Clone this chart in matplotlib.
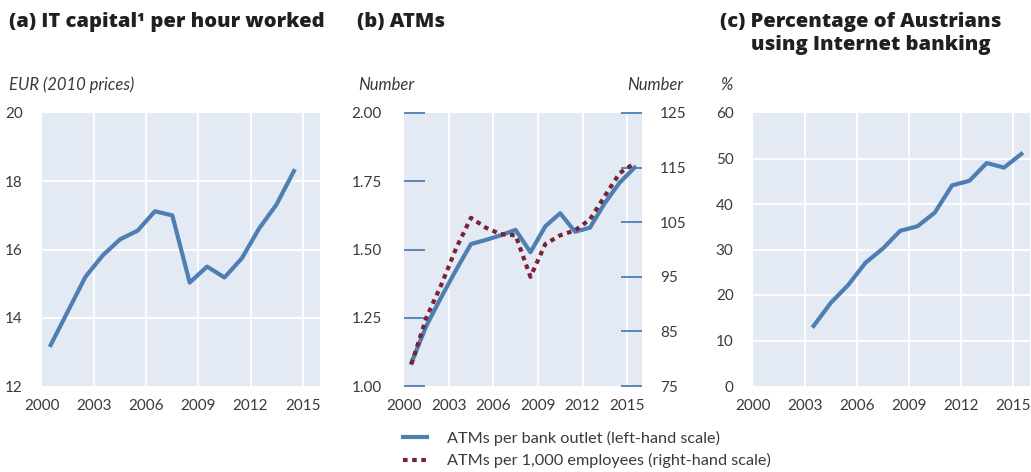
import matplotlib
matplotlib.use("Agg")
import matplotlib.pyplot as plt

plt.rcParams["font.family"] = ["Lato", "DejaVu Sans"]

# ─── données ─────────────────────────────────────────────────────────────────
# points placés en milieu d'année
YEARS_A = [2000.5, 2001.5, 2002.5, 2003.5, 2004.5, 2005.5, 2006.5, 2007.5,
           2008.5, 2009.5, 2010.5, 2011.5, 2012.5, 2013.5, 2014.5]
IT_CAPITAL = [13.2, 14.2, 15.2, 15.83, 16.3, 16.55, 17.12, 17.0,
              15.03, 15.5, 15.18, 15.74, 16.62, 17.32, 18.3]

YEARS_B = [2000.5, 2001.5, 2002.5, 2003.5, 2004.5, 2005.5, 2006.5, 2007.5,
           2008.5, 2009.5, 2010.5, 2011.5, 2012.5, 2013.5, 2014.5, 2015.5]
ATM_PER_OUTLET = [1.085, 1.22, 1.325, 1.425, 1.52, 1.535, 1.552, 1.572,
                  1.49, 1.585, 1.633, 1.565, 1.58, 1.67, 1.745, 1.80]
ATM_PER_1000 = [79.0, 87.5, 93.5, 100.2, 105.8, 104.0, 102.8, 102.6,
                95.0, 101.0, 102.6, 103.5, 105.5, 109.8, 114.0, 115.8]

YEARS_C = [2003.5, 2004.5, 2005.5, 2006.5, 2007.5, 2008.5, 2009.5,
           2010.5, 2011.5, 2012.5, 2013.5, 2014.5, 2015.5]
INTERNET_BANKING = [13.2, 18.3, 22.2, 27.1, 30.2, 34.1, 35.1,
                    38.1, 44.1, 45.1, 49.0, 48.0, 51.0]

X_TICKS = [2000, 2003, 2006, 2009, 2012, 2015]

# ─── styles ──────────────────────────────────────────────────────────────────
BG = "#e4eaf3"
BLUE = "#4e7fb2"
RED = "#7a2337"
TXT = "#3a3a3a"
TITLE_C = "#231f20"
TICK_FS = 11
LBL_FS = 12
LEG_FS = 11.7
TITLE_FS = 14.5
LW = 3.0

fig = plt.figure(figsize=(10.31, 4.72), dpi=100)
W, H = 1031, 472


def axes_px(x0, x1, y0=113, y1=386):
    return fig.add_axes([x0 / W, 1 - y1 / H, (x1 - x0) / W, (y1 - y0) / H])


def style(ax, grid_y=True):
    ax.set_facecolor(BG)
    for s in ax.spines.values():
        s.set_visible(False)
    ax.set_xlim(2000, 2016)
    ax.set_xticks(X_TICKS)
    ax.tick_params(axis="x", length=0, pad=9, labelsize=TICK_FS, labelcolor=TXT)
    ax.tick_params(axis="y", length=0, pad=14, labelsize=TICK_FS, labelcolor=TXT)
    for x in X_TICKS[1:]:
        ax.axvline(x, color="white", lw=1.3, zorder=1)
    if grid_y:
        for y in ax.get_yticks()[1:-1]:
            ax.axhline(y, color="white", lw=1.3, zorder=1)


# ── (a) ──────────────────────────────────────────────────────────────────────
ax_a = axes_px(42, 320)
ax_a.set_ylim(12, 20)
ax_a.set_yticks([12, 14, 16, 18, 20])
style(ax_a)
ax_a.plot(YEARS_A, IT_CAPITAL, color=BLUE, lw=LW, zorder=3)

# ── (b) ──────────────────────────────────────────────────────────────────────
ax_b = axes_px(404, 642)
ax_b.set_ylim(1.0, 2.0)
ax_b.set_yticks([1.0, 1.25, 1.5, 1.75, 2.0])
ax_b.set_yticklabels(["1.00", "1.25", "1.50", "1.75", "2.00"])
style(ax_b, grid_y=False)
ax_b.tick_params(axis="y", direction="in", length=15, width=1.3, color=BLUE,
                 pad=16)
l1, = ax_b.plot(YEARS_B, ATM_PER_OUTLET, color=BLUE, lw=LW, zorder=3)

ax_b2 = ax_b.twinx()
ax_b2.set_ylim(75, 125)
ax_b2.set_yticks([75, 85, 95, 105, 115, 125])
for s in ax_b2.spines.values():
    s.set_visible(False)
ax_b2.tick_params(axis="y", direction="in", length=15, width=1.3, color=BLUE,
                  pad=13, labelsize=TICK_FS, labelcolor=TXT)
l2, = ax_b2.plot(YEARS_B, ATM_PER_1000, color=RED, lw=LW,
                 ls=(0, (1.1, 1.1)), dash_capstyle="butt", zorder=3)

# ── (c) ──────────────────────────────────────────────────────────────────────
ax_c = axes_px(753, 1030)
ax_c.set_ylim(0, 60)
ax_c.set_yticks([0, 10, 20, 30, 40, 50, 60])
style(ax_c)
ax_c.plot(YEARS_C, INTERNET_BANKING, color=BLUE, lw=LW, zorder=3)

# ── textes ───────────────────────────────────────────────────────────────────
def ftext(x, y, s, **kw):
    fig.text(x / W, 1 - y / H, s, **kw)


# titres plus larges que Lato : Open Sans extra-gras
tkw = dict(fontsize=TITLE_FS, fontweight="heavy", color=TITLE_C, va="center",
           family=["Open Sans", "Lato", "DejaVu Sans"])
ftext(9, 22, "(a) IT capital¹ per hour worked", **tkw)
ftext(357, 22, "(b) ATMs", **tkw)
ftext(720, 22, "(c) Percentage of Austrians", **tkw)
ftext(751, 45, "using Internet banking", **tkw)

ukw = dict(fontsize=LBL_FS, style="italic", color=TXT, va="center")
ftext(9, 85, "EUR (2010 prices)", **ukw)
ftext(358, 85, "Number", **ukw)
ftext(683, 85, "Number", ha="right", **ukw)
ftext(720, 85, "%", **ukw)

fig.legend([l1, l2],
           ["ATMs per bank outlet (left-hand scale)",
            "ATMs per 1,000 employees (right-hand scale)"],
           loc="upper left", bbox_to_anchor=(403 / W, 1 - 431 / H),
           frameon=False, fontsize=LEG_FS, labelcolor=TXT,
           handlelength=1.5, handletextpad=1.2, labelspacing=0.45,
           borderpad=0, borderaxespad=0)

fig.savefig("out.png", dpi=100)
